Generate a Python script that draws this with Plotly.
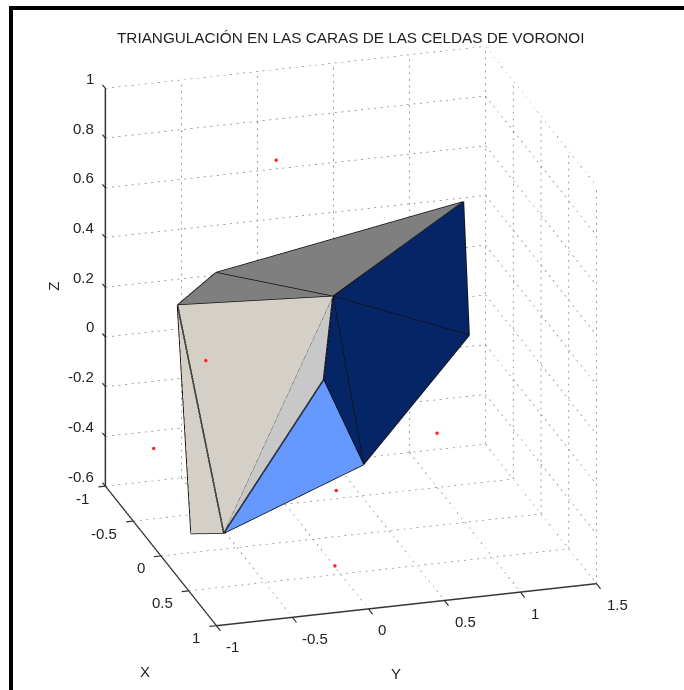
import plotly.graph_objects as go

TITLE = "TRIANGULACIÓN EN LAS CARAS DE LAS CELDAS DE VORONOI"
X_TICKS = [-1, -0.5, 0, 0.5, 1]
Y_TICKS = [-1, -0.5, 0, 0.5, 1, 1.5]
Z_TICKS = [-0.6, -0.4, -0.2, 0, 0.2, 0.4, 0.6, 0.8, 1]

# vertices A..I of the cell
VX = [0.0, -0.3, -0.2, -0.5, -0.1, 0.3, 0.2, 0.8, 0.4]
VY = [-0.891, -0.529, 0.204, 1.172, 1.063, 0.222, -0.004, -0.879, -0.948]
VZ = [0.401, 0.423, 0.306, 0.537, 0.12, -0.231, 0.097, -0.292, -0.401]
FACE_I = [0, 1, 2, 2, 2, 6, 2, 0, 0]
FACE_J = [1, 3, 3, 4, 5, 5, 6, 2, 7]
FACE_K = [2, 2, 4, 5, 6, 7, 7, 7, 8]
FACE_COLORS = ["#7f7f7f", "#7f7f7f", "#052567", "#052567", "#052567",
               "#6699ff", "#c8c8c8", "#d4d0c8", "#d4d0c8"]
EDGES = [(0, 1), (1, 2), (0, 2), (1, 3), (2, 3), (3, 4), (2, 4), (4, 5), (2, 5),
         (2, 6), (6, 5), (6, 7), (5, 7), (2, 7), (0, 7), (0, 8), (8, 7)]

# red seed points
PX = [-0.5, 0.6, -0.3, 0.5, 0.8, -0.2]
PY = [-0.06, -0.924, -0.938, -0.03, -0.148, 0.889]
PZ = [0.788, 0.349, -0.256, -0.262, -0.473, -0.29]

XR, YR, ZR = (-1, 1), (-1, 1.5), (-0.6, 1)
DOTS_X, DOTS_Y, DOTS_Z = 28, 58, 61   # dots drawn along a full grid line in each direction
DOT_FRACTION = 0.3

gx, gy, gz = [], [], []
def dotted(a, b, n):
    for q in range(n):
        t0, t1 = q / n, (q + DOT_FRACTION) / n
        for t in (t0, t1):
            gx.append(a[0] + (b[0] - a[0]) * t)
            gy.append(a[1] + (b[1] - a[1]) * t)
            gz.append(a[2] + (b[2] - a[2]) * t)
        gx.append(None); gy.append(None); gz.append(None)
for x in X_TICKS:
    dotted((x, YR[0], ZR[0]), (x, YR[1], ZR[0]), DOTS_Y)
    dotted((x, YR[1], ZR[0]), (x, YR[1], ZR[1]), DOTS_Z)
for y in Y_TICKS:
    dotted((XR[0], y, ZR[0]), (XR[1], y, ZR[0]), DOTS_X)
    dotted((XR[0], y, ZR[0]), (XR[0], y, ZR[1]), DOTS_Z)
for z in Z_TICKS:
    dotted((XR[0], YR[0], z), (XR[0], YR[1], z), DOTS_Y)
    dotted((XR[0], YR[1], z), (XR[1], YR[1], z), DOTS_X)

ex, ey, ez = [], [], []
for a, b in EDGES:
    ex.extend([VX[a], VX[b], None]); ey.extend([VY[a], VY[b], None]); ez.extend([VZ[a], VZ[b], None])

fig = go.Figure()
fig.add_trace(go.Scatter3d(x=gx, y=gy, z=gz, mode="lines", hoverinfo="skip",
                           line=dict(color="#808080", width=1.5)))
fig.add_trace(go.Mesh3d(x=VX, y=VY, z=VZ, i=FACE_I, j=FACE_J, k=FACE_K, facecolor=FACE_COLORS,
                        flatshading=True, hoverinfo="skip",
                        lighting=dict(ambient=1, diffuse=0, specular=0, fresnel=0, roughness=1)))
fig.add_trace(go.Scatter3d(x=ex, y=ey, z=ez, mode="lines", hoverinfo="skip",
                           line=dict(color="#111111", width=3)))
fig.add_trace(go.Scatter3d(x=PX, y=PY, z=PZ, mode="markers", hoverinfo="skip",
                           marker=dict(color="#ff2020", size=2)))

def axis(rng, ticks):
    return dict(range=list(rng), tickmode="array", tickvals=ticks, title=dict(text=""),
                showgrid=False, zeroline=False, showbackground=False, showspikes=False,
                showline=True, linecolor="#333333", linewidth=3,
                ticks="", showticklabels=False, autorange=False)

FONT = dict(size=15, color="#222222")
TICK_COLOR = "#333333"
ann = []
def tick(x, y, z, label, dx, dy, sx, sy, anchor):
    ann.append(dict(x=x, y=y, z=z, text=" ", showarrow=True, arrowhead=0, arrowwidth=1.2,
                    arrowcolor=TICK_COLOR, ax=dx, ay=dy, standoff=0, startstandoff=0))
    ann.append(dict(x=x, y=y, z=z, text=label, showarrow=False, font=FONT,
                    xanchor=anchor, yanchor="middle", xshift=sx, yshift=sy))
for v in Z_TICKS:
    tick(XR[0], YR[0], v, str(v), -6, -7, -9, 10, "right")
for v in X_TICKS:
    tick(v, YR[0], ZR[0], str(v), -10, 1, -14, -12, "right")
for v in Y_TICKS:
    tick(XR[1], v, ZR[0], str(v), 7, 9, 8, -21, "left")
ann.append(dict(x=0.5, y=YR[0], z=ZR[0], text="X", showarrow=False, font=FONT, xshift=-44, yshift=-81))
ann.append(dict(x=XR[1], y=0.5, z=ZR[0], text="Y", showarrow=False, font=FONT, xshift=-49, yshift=-73))
ann.append(dict(x=XR[0], y=YR[0], z=0.2, text="Z", showarrow=False, font=FONT, xshift=-52, yshift=1, textangle=-90))

k = 1.8 / 1.18
fig.update_layout(
    width=684, height=690, margin=dict(l=0, r=0, t=0, b=0), showlegend=False,
    paper_bgcolor="white", font=dict(family="Liberation Sans"),
    scene=dict(
        domain=dict(x=[0.0263, 1.0], y=[0.026, 1.0]),
        xaxis=axis(XR, X_TICKS), yaxis=axis(YR, Y_TICKS), zaxis=axis(ZR, Z_TICKS),
        aspectmode="manual", aspectratio=dict(x=1.162, y=1.18, z=1.276),
        camera=dict(projection=dict(type="orthographic"), up=dict(x=0, y=0, z=1),
                    center=dict(x=0, y=0, z=0),
                    eye=dict(x=0.890 * k, y=-0.264 * k, z=0.373 * k)),
        annotations=ann,
    ),
    annotations=[dict(text=TITLE, xref="paper", yref="paper", x=351 / 684, y=1 - 27 / 690,
                      showarrow=False, font=dict(size=15.3, color="#222222"))],
    shapes=[dict(type="rect", xref="paper", yref="paper", x0=9 / 684, x1=1, y0=1 - 10 / 690, y1=1 - 6 / 690,
                 fillcolor="black", line_width=0),
            dict(type="rect", xref="paper", yref="paper", x0=9 / 684, x1=13 / 684, y0=0, y1=1 - 6 / 690,
                 fillcolor="black", line_width=0)],
)
fig.write_html("out.html", config=dict(displayModeBar=False),
               post_script="document.body.style.margin='0';")
